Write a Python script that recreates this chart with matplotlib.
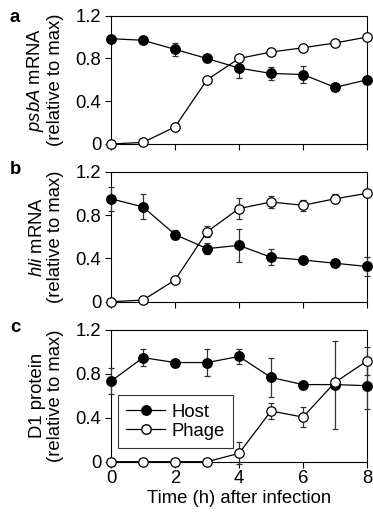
import matplotlib
matplotlib.use('Agg')
import matplotlib.pyplot as plt
from matplotlib.lines import Line2D

plt.rcParams['font.family'] = ['Liberation Sans', 'DejaVu Sans']
plt.rcParams['mathtext.fontset'] = 'custom'
plt.rcParams['mathtext.rm'] = 'Liberation Sans'
plt.rcParams['mathtext.it'] = 'Liberation Sans:italic'

FS = 13.3

hours = [0, 1, 2, 3, 4, 5, 6, 7, 8]

# panel a: psbA mRNA
a_host = [0.985, 0.97, 0.885, 0.80, 0.71, 0.66, 0.65, 0.53, 0.60]
a_host_err = [0, 0, 0.06, 0, 0.09, 0.06, 0.075, 0.02, 0]
a_phage = [0.0, 0.015, 0.16, 0.60, 0.80, 0.86, 0.90, 0.945, 1.0]
a_phage_err = [0, 0, 0, 0, 0, 0.03, 0, 0, 0]

# panel b: hli mRNA
b_host = [0.95, 0.875, 0.62, 0.49, 0.52, 0.41, 0.385, 0.355, 0.325]
b_host_err = [0.11, 0.115, 0.04, 0.05, 0.15, 0.075, 0.03, 0.02, 0.087]
b_phage = [0.0, 0.015, 0.20, 0.645, 0.86, 0.92, 0.89, 0.95, 1.0]
b_phage_err = [0, 0, 0, 0.05, 0.1, 0.055, 0.05, 0.04, 0]

# panel c: D1 protein
c_host = [0.73, 0.945, 0.90, 0.90, 0.955, 0.765, 0.70, 0.70, 0.69]
c_host_err = [0.12, 0.08, 0, 0.12, 0.07, 0.175, 0, 0.40, 0.21]
c_phage = [0, 0, 0, 0, 0.076, 0.46, 0.405, 0.72, 0.915]
c_phage_err = [0, 0, 0, 0, 0.1, 0.07, 0.087, 0, 0.13]

panels = [
    ('a', '$\\it{psbA}$ mRNA\n(relative to max)', a_host, a_host_err, a_phage, a_phage_err),
    ('b', '$\\it{hli}$ mRNA\n(relative to max)', b_host, b_host_err, b_phage, b_phage_err),
    ('c', 'D1 protein\n(relative to max)', c_host, c_host_err, c_phage, c_phage_err),
]

W, H = 373, 514
fig = plt.figure(figsize=(W / 100, H / 100), dpi=100)

# axes boxes in pixels: top, bottom
boxes = [(15.7, 144.0), (171.7, 301.7), (329.5, 461.7)]
letter_y = [21.7, 173.5, 331.7]
left_px, right_px = 111, 367

for i, (letter, ylab, host, host_err, phage, phage_err) in enumerate(panels):
    top, bot = boxes[i]
    ax = fig.add_axes([left_px / W, 1 - bot / H, (right_px - left_px) / W, (bot - top) / H])

    ax.errorbar(hours, host, yerr=host_err, color='black', lw=0.9, marker='o',
                ms=6.8, mfc='black', mec='black', ecolor='#333333', elinewidth=0.9,
                capsize=2.5, capthick=0.9, clip_on=False, zorder=3)
    ax.errorbar(hours, phage, yerr=phage_err, color='black', lw=0.9, marker='o',
                ms=6.8, mfc='white', mec='black', mew=0.9, ecolor='#333333',
                elinewidth=0.9, capsize=2.5, capthick=0.9, clip_on=False, zorder=4)

    ax.set_xlim(0, 8)
    ax.set_ylim(0, 1.2)
    ax.set_yticks([0, 0.4, 0.8, 1.2])
    ax.set_yticklabels(['0', '0.4', '0.8', '1.2'])
    ax.set_xticks([0, 2, 4, 6, 8])
    ax.tick_params(direction='out', length=4, width=0.8, labelsize=FS, pad=3)
    if i < 2:
        ax.tick_params(axis='x', labelbottom=False)
    else:
        ax.tick_params(axis='x', pad=2)
        ax.set_xlabel('Time (h) after infection', fontsize=FS, labelpad=2)
    for s in ax.spines.values():
        s.set_linewidth(0.8)

    ax.set_ylabel(ylab, fontsize=FS, linespacing=1.05)
    ax.yaxis.set_label_coords(-0.185, 0.5)

    fig.text(10 / W, 1 - letter_y[i] / H, letter, fontsize=FS, fontweight='bold',
             ha='left', va='baseline')

    if letter == 'c':
        handles = [
            Line2D([], [], color='black', lw=0.9, marker='o', ms=6.8, mfc='black', mec='black'),
            Line2D([], [], color='black', lw=0.9, marker='o', ms=6.8, mfc='white', mec='black'),
        ]
        leg = ax.legend(handles, ['Host', 'Phage'], loc='lower left',
                        bbox_to_anchor=(0.027, 0.104), fontsize=FS, frameon=True,
                        fancybox=False, edgecolor='black', borderaxespad=0,
                        handlelength=2.1, handletextpad=0.35, labelspacing=0.1,
                        borderpad=0.45)
        leg.get_frame().set_linewidth(0.8)

fig.savefig('out.png', dpi=100)
